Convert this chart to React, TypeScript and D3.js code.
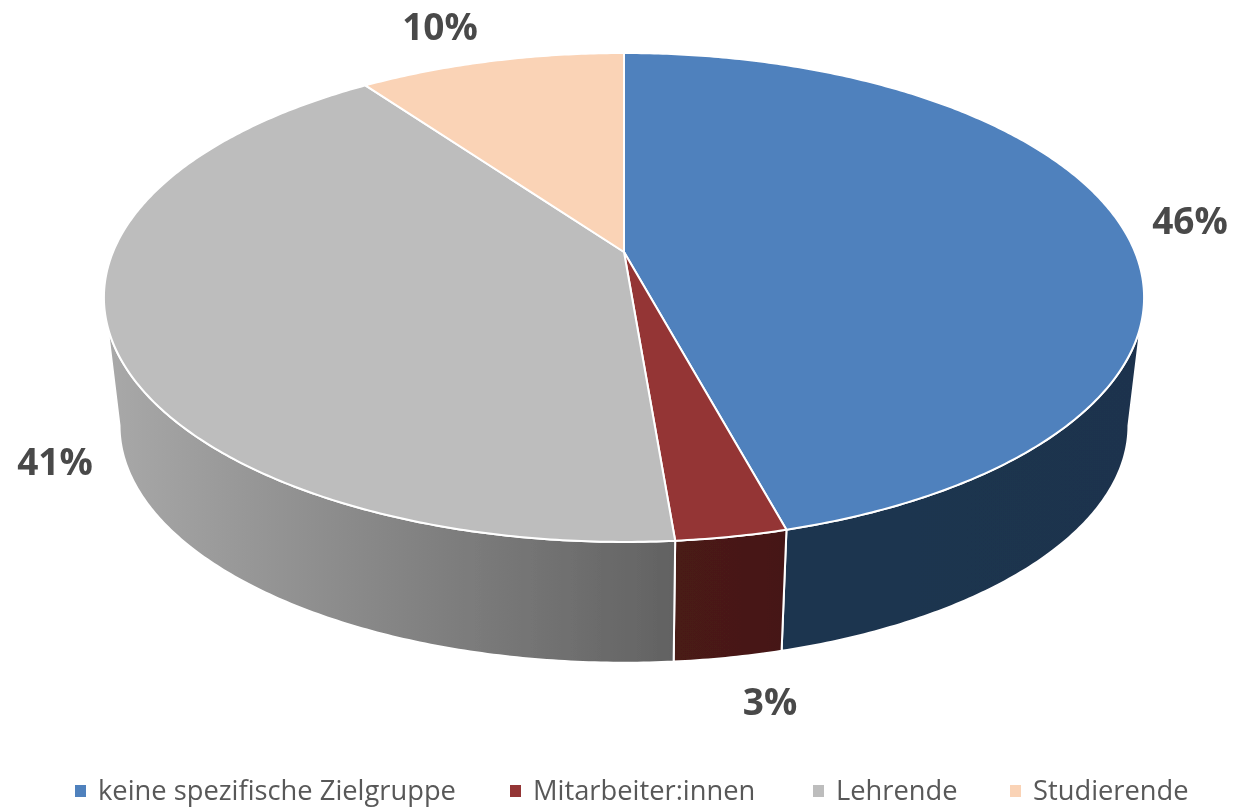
import * as d3 from "d3";
import React from "react";

// values (labels are rounded in the original)
const categories = ["keine spezifische Zielgruppe", "Mitarbeiter:innen", "Lehrende", "Studierende"];
const shares = [45.8, 2.9, 41.4, 9.9];
const labels = ["46%", "3%", "41%", "10%"];

const topColors = ["#4f81bd", "#943634", "#bdbdbd", "#fad3b6"];
const sideFrom = ["#1f3550", "#4a1a18", "#a9a9a9", "#c9a78f"];
const sideTo = ["#1e334d", "#451816", "#626262", "#c9a78f"];

const width = 1241;
const height = 807;

// perspective of the disc, fitted to the reference
const apex = {x: 624, y: 252};
const radiusX = 511;
const radiusY = 236;
const tilt = 0.186;
const depthY = 129.5;
const depthScale = 0.97;

const labelPos = [[1190, 234], [770, 715], [55, 475], [440, 40]];
const legendX = [75, 510, 813, 1010];
const legendY = 791;

const project = (theta: number, low = false): [number, number] => {
    const u = Math.sin(theta);
    const v = -Math.cos(theta);
    const w = 1 - tilt * v;
    const s = low ? depthScale : 1;
    return [
        apex.x + (s * radiusX * u) / w,
        apex.y + (low ? depthY : 0) + (s * radiusY * v) / w,
    ];
};

const arcPoints = (a: number, b: number, low = false) => {
    const n = Math.max(2, Math.ceil(Math.abs(b - a) / 0.01));
    return d3.range(n + 1).map((i) => project(a + ((b - a) * i) / n, low));
};

const line = d3.line();

// rim of the disc is only visible between the two silhouette tangents
const sideStart = Math.PI - Math.acos(tilt);
const sideEnd = Math.PI + Math.acos(tilt);

export default function App() {
    const slices = d3.pie<number>().sort(null).startAngle(0).endAngle(2 * Math.PI)(shares);

    return (
        <svg width={width} height={height} style={{position: "absolute", left: 0, top: 0, background: "#fff"}}>
            <defs>
                <filter id="soft" x="-5%" y="-5%" width="110%" height="110%">
                    <feGaussianBlur stdDeviation="0.5" />
                </filter>
                {slices.map((d, i) => {
                    const a = Math.max(d.startAngle, sideStart);
                    const b = Math.min(d.endAngle, sideEnd);
                    if (a >= b) return null;
                    const x1 = project(a)[0];
                    const x2 = project(b)[0];
                    return (
                        <linearGradient key={i} id={`side${i}`} gradientUnits="userSpaceOnUse" x1={x2} x2={x1} y1={0} y2={0}>
                            <stop offset="0" stopColor={sideFrom[i]} />
                            <stop offset="1" stopColor={sideTo[i]} />
                        </linearGradient>
                    );
                })}
            </defs>

            <g filter="url(#soft)">
                {slices.map((d, i) => {
                    const a = Math.max(d.startAngle, sideStart);
                    const b = Math.min(d.endAngle, sideEnd);
                    if (a >= b) return null;
                    const pts = [...arcPoints(a, b), ...arcPoints(b, a, true)];
                    return (
                        <path key={i} d={line(pts) + "Z"} fill={`url(#side${i})`} stroke="#fff" strokeWidth={2} strokeLinejoin="round" />
                    );
                })}
                {slices.map((d, i) => {
                    const pts = [[apex.x, apex.y] as [number, number], ...arcPoints(d.startAngle, d.endAngle)];
                    return (
                        <path key={i} d={line(pts) + "Z"} fill={topColors[i]} stroke="#fff" strokeWidth={2} strokeLinejoin="round" />
                    );
                })}

                {labels.map((t, i) => (
                    <text key={t} x={labelPos[i][0]} y={labelPos[i][1]} textAnchor="middle"
                          fontFamily="'Open Sans', sans-serif" fontWeight={700} fontSize={37} fill="#4a4a4a">
                        {t}
                    </text>
                ))}

                {categories.map((c, i) => (
                    <g key={c}>
                        <rect x={legendX[i]} y={legendY - 6} width={11} height={12} fill={topColors[i]} />
                        <text x={legendX[i] + 23} y={legendY + 9} fontFamily="'Open Sans', sans-serif" fontSize={27.3} fill="#595959">
                            {c}
                        </text>
                    </g>
                ))}
            </g>
        </svg>
    );
}
